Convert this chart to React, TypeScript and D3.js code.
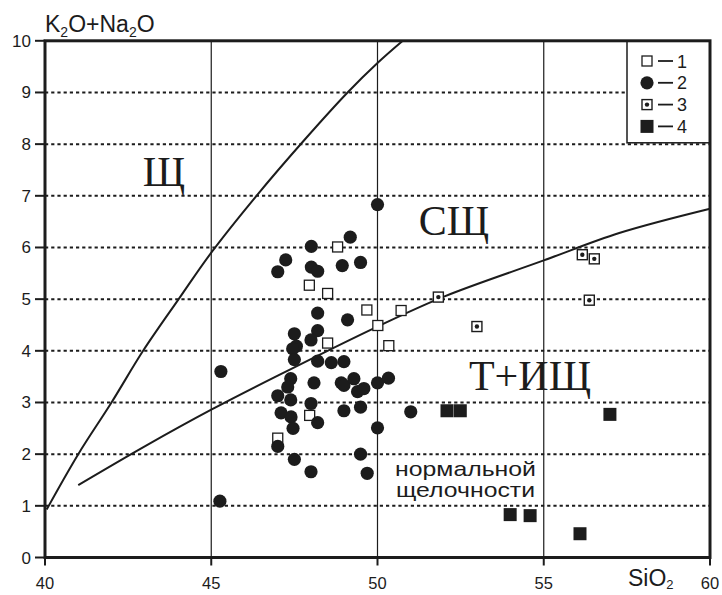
import React from 'react';
import * as d3 from 'd3';

// SiO2 / K2O+Na2O pairs
const group1 = [
  [48.8, 6.01], [47.95, 5.27], [48.5, 5.11], [49.68, 4.79], [50.71, 4.78],
  [50.01, 4.49], [48.5, 4.15], [50.34, 4.1], [47.96, 2.75], [47.0, 2.31],
];
const group2 = [
  [50.0, 6.83], [49.18, 6.2], [48.01, 6.02], [47.24, 5.76], [47.0, 5.53],
  [48.01, 5.62], [48.2, 5.54], [48.94, 5.65], [49.49, 5.71], [48.2, 4.73],
  [49.1, 4.6], [48.2, 4.39], [47.5, 4.33], [48.0, 4.21], [47.56, 4.09],
  [47.45, 4.04], [47.5, 3.83], [48.2, 3.8], [48.61, 3.77], [48.99, 3.79],
  [45.29, 3.6], [47.39, 3.46], [47.3, 3.3], [48.09, 3.38], [48.91, 3.38],
  [48.99, 3.33], [49.29, 3.46], [49.4, 3.21], [49.59, 3.27], [50.0, 3.38],
  [50.33, 3.47], [47.0, 3.13], [47.39, 3.05], [48.0, 2.98], [47.1, 2.8],
  [47.4, 2.72], [48.2, 2.61], [48.99, 2.84], [49.49, 2.91], [47.46, 2.5],
  [51.0, 2.82], [50.0, 2.51], [47.0, 2.15], [47.5, 1.9], [49.49, 2.0],
  [48.0, 1.66], [49.69, 1.63], [45.26, 1.09],
];
const group3 = [[51.83, 5.04], [52.99, 4.47], [56.16, 5.86], [56.52, 5.78], [56.37, 4.98]];
const group4 = [[52.09, 2.84], [52.49, 2.84], [56.99, 2.77], [53.99, 0.83], [54.59, 0.81], [56.09, 0.46]];

// boundary curves
const upperBoundary = [
  [40.05, 0.93], [41.0, 2.0], [42.0, 3.0], [42.95, 4.0], [44.02, 5.0], [45.0, 5.9],
  [46.36, 7.0], [47.8, 8.08], [49.1, 9.0], [50.0, 9.57], [50.76, 10.0],
];
const lowerBoundary = [
  [41.0, 1.4], [43.0, 2.15], [45.0, 2.86], [47.0, 3.52], [50.0, 4.47],
  [52.0, 5.05], [55.0, 5.75], [57.27, 6.28], [60.0, 6.75],
];

const xTicks = [40, 45, 50, 55, 60];
const yTicks = [0, 1, 2, 3, 4, 5, 6, 7, 8, 9, 10];
const legendItems = ['1', '2', '3', '4'];

const ink = '#1c1c1c';
const sans = 'Arial, "Liberation Sans", sans-serif';
const serif = '"Times New Roman", "Liberation Serif", serif';

export default function App() {
  const x = d3.scaleLinear().domain([40, 60]).range([45, 710]);
  const y = d3.scaleLinear().domain([0, 10]).range([557.5, 40.8]);

  const line = d3
    .line<number[]>()
    .x((d) => x(d[0]))
    .y((d) => y(d[1]))
    .curve(d3.curveCatmullRom);

  const legendX = 647;
  const legendY = (i: number) => 61 + i * 21.8;

  const marker = (k: number, cx: number, cy: number, key: string) => {
    if (k === 0)
      return <rect key={key} x={cx - 5} y={cy - 5} width={10} height={10} fill="#fff" stroke={ink} strokeWidth={1.3} />;
    if (k === 1) return <circle key={key} cx={cx} cy={cy} r={6.6} fill={ink} />;
    if (k === 2)
      return (
        <g key={key}>
          <rect x={cx - 5} y={cy - 5} width={10} height={10} fill="#fff" stroke={ink} strokeWidth={1.4} />
          <circle cx={cx} cy={cy} r={2.2} fill={ink} />
        </g>
      );
    return <rect key={key} x={cx - 6.5} y={cy - 6.5} width={13} height={13} fill={ink} />;
  };

  return (
    <svg width={722} height={595} style={{ position: 'absolute', left: 0, top: 0, background: '#fff' }}>
      {/* grid */}
      {yTicks.slice(1, -1).map((t) => (
        <line key={'h' + t} x1={x(40)} x2={x(60)} y1={y(t)} y2={y(t)} stroke={ink} strokeWidth={2} strokeDasharray="3.2 3" />
      ))}
      {[45, 50, 55].map((t) => (
        <line key={'v' + t} x1={x(t)} x2={x(t)} y1={y(10)} y2={y(0)} stroke={ink} strokeWidth={1.2} />
      ))}

      {/* boundaries */}
      <path d={line(upperBoundary) || ''} fill="none" stroke={ink} strokeWidth={2} />
      <path d={line(lowerBoundary) || ''} fill="none" stroke={ink} strokeWidth={2} />

      {/* field names */}
      <text x={164} y={186} fontFamily={serif} fontSize={42} textAnchor="middle" fill={ink}>Щ</text>
      <text x={454} y={235} fontFamily={serif} fontSize={42} textAnchor="middle" fill={ink}>СЩ</text>
      <text x={530} y={390} fontFamily={serif} fontSize={42} textAnchor="middle" fill={ink}>Т+ИЩ</text>
      <text x={395} y={476} fontFamily={sans} fontSize={21} textLength={141} lengthAdjust="spacingAndGlyphs" fill={ink}>нормальной</text>
      <text x={396} y={497} fontFamily={sans} fontSize={21} textLength={139} lengthAdjust="spacingAndGlyphs" fill={ink}>щелочности</text>

      {/* points */}
      {group1.map((d, i) => marker(0, x(d[0]), y(d[1]), 'a' + i))}
      {group3.map((d, i) => marker(2, x(d[0]), y(d[1]), 'c' + i))}
      {group4.map((d, i) => marker(3, x(d[0]), y(d[1]), 'd' + i))}
      {group2.map((d, i) => marker(1, x(d[0]), y(d[1]), 'b' + i))}

      {/* legend */}
      <rect x={627} y={y(10)} width={x(60) - 627} height={102} fill="#fff" stroke={ink} strokeWidth={1.5} />
      {legendItems.map((lab, i) => (
        <g key={'l' + i}>
          {marker(i, legendX, legendY(i), 'lm' + i)}
          <line x1={658} x2={673} y1={legendY(i)} y2={legendY(i)} stroke={ink} strokeWidth={1.8} />
          <text x={677} y={legendY(i) + 6.5} fontFamily={sans} fontSize={18} fill={ink}>{lab}</text>
        </g>
      ))}

      {/* frame */}
      <rect x={x(40)} y={y(10)} width={x(60) - x(40)} height={y(0) - y(10)} fill="none" stroke={ink} strokeWidth={3} />

      {/* y axis */}
      {yTicks.map((t) => (
        <g key={'yt' + t}>
          <line x1={35} x2={x(40)} y1={y(t)} y2={y(t)} stroke={ink} strokeWidth={2} />
          <text x={31} y={y(t) + 6} fontFamily={sans} fontSize={17} textAnchor="end" fill={ink}>{t}</text>
        </g>
      ))}
      {/* x axis */}
      {xTicks.map((t) => (
        <g key={'xt' + t}>
          <line x1={x(t)} x2={x(t)} y1={y(0)} y2={y(0) + 8} stroke={ink} strokeWidth={2} />
          <text x={x(t)} y={589} fontFamily={sans} fontSize={16.5} textAnchor="middle" fill={ink}>{t}</text>
        </g>
      ))}

      {/* axis titles */}
      <text x={45} y={32} fontFamily={sans} fontSize={23} fill={ink}>
        K<tspan fontSize={14} dy={5}>2</tspan>
        <tspan dy={-5}>O+Na</tspan>
        <tspan fontSize={14} dy={5}>2</tspan>
        <tspan dy={-5}>O</tspan>
      </text>
      <text x={628} y={586} fontFamily={sans} fontSize={23} fill={ink}>
        SiO<tspan fontSize={13} dy={3}>2</tspan>
      </text>
    </svg>
  );
}
